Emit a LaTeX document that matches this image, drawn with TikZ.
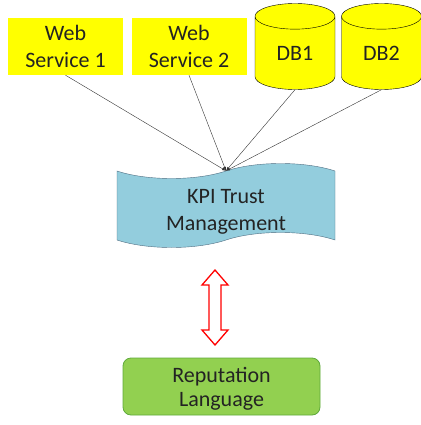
\documentclass[tikz,border=0pt]{standalone}
\usepackage{fontspec}
\setmainfont{Carlito}
\usetikzlibrary{positioning,shapes,arrows}
\definecolor{wsyellow}{RGB}{255,255,0}
\definecolor{kpiblue}{RGB}{147,205,221}
\definecolor{kpiedge}{RGB}{80,110,130}
\definecolor{repgreen}{RGB}{146,208,80}
\definecolor{repedge}{RGB}{95,170,60}
\definecolor{txtgray}{RGB}{35,35,35}

\begin{document}
\begin{tikzpicture}[x=1pt, y=-1pt, font=\fontsize{22}{27}\selectfont, text=txtgray]
		\useasboundingbox (0,0) rectangle (420,425);
		\begin{scope}[every node/.style={fill=wsyellow, align=center, minimum width=115pt, minimum height=57pt, inner sep=0pt}]
			\node (ws1) at (65.5,46.5) {Web\\Service 1};
			\node (ws2) at (189,46.5) {Web\\Service 2};
		\end{scope}
		\begin{scope}[every node/.style={cylinder, shape border rotate=90, draw, fill=wsyellow, anchor=shape center, minimum width=80pt, minimum height=86pt, aspect=0.7, inner sep=0pt}]
			\node (db1) at (295,46.5) {DB1};
			\node (db2) at (381.5,46.5) {DB2};
		\end{scope}
		\node[tape, draw=kpiedge, fill=kpiblue, align=center, tape bend height=15pt, minimum width=218pt, minimum height=84pt, inner sep=0pt, text height=49pt, text depth=0pt] (kpi) at (226,205.5) {KPI Trust\\Management};
		\node[rounded corners=8pt, draw=repedge, thick, fill=repgreen, align=center, minimum width=197pt, minimum height=57pt, inner sep=0pt, font=\fontsize{22}{24}\selectfont, text height=40.4pt, text depth=0pt] (rep) at (221.5,386.5) {Reputation\\Language};
		% two-way link between trust management and language
		\coordinate (link) at (215,307.5);
		\draw[red, line width=1.3pt, fill=white] (link) ++(0,-37.5) -- ++(13,15) -- ++(-7,0) -- ++(0,45) -- ++(7,0) -- ++(-13,15)
			-- ++(-13,-15) -- ++(7,0) -- ++(0,-45) -- ++(-7,0) -- cycle;
		\begin{scope}[every edge/.style={draw, ->, >=latex, black!80}]
			\path (ws1.south) edge (kpi.north);
			\path (ws2.south) edge (kpi.north);
			\path (db1.south) edge (kpi.north);
			\path (db2.south) edge (kpi.north);
		\end{scope}
	\end{tikzpicture}
\end{document}
